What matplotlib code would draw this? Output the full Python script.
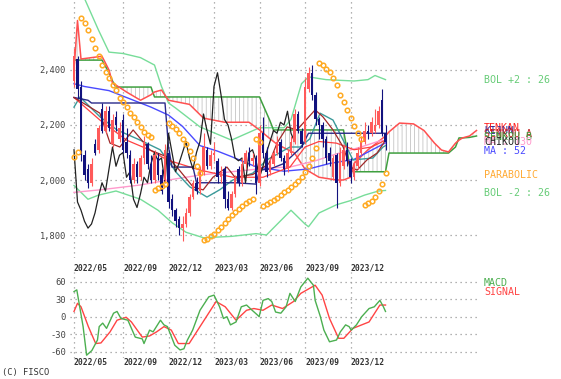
import matplotlib
matplotlib.use("Agg")
import matplotlib.pyplot as plt
import matplotlib.transforms as mtransforms
import numpy as np

W, H = 561, 379

# ---------------- weekly candles ----------------
opens = [2360, 2440, 2340, 2090, 2040, 1990, 2130, 2110, 2260, 2180,
         2250, 2130, 2230, 2150, 2220, 2140, 2090, 2000, 2060, 2010,
         2080, 2130, 2060, 2000, 2080, 2020, 2000, 2100, 1930, 1890,
         1860, 1825, 1840, 1880, 1940, 1990, 1960, 2030, 2110, 2050,
         2090, 2070, 2010, 2040, 1930, 1900, 1950, 2040, 1990, 2060,
         2100, 2070, 2080, 1990, 2170, 2100, 2030, 2060, 2100, 2140,
         2080, 2040, 2100, 2140, 2240, 2180, 2140, 2330, 2390, 2310,
         2220, 2200, 2150, 2100, 2010, 2090, 1990, 2050, 2110, 2070,
         2010, 2050, 2100, 2140, 2180, 2170, 2180, 2200, 2290, 2170]
highs = [2480, 2450, 2360, 2110, 2060, 2080, 2150, 2200, 2280, 2270,
         2270, 2240, 2250, 2210, 2240, 2190, 2110, 2080, 2070, 2090,
         2160, 2140, 2090, 2110, 2100, 2040, 2130, 2110, 1950, 1900,
         1870, 1870, 1900, 1950, 2000, 2010, 2050, 2170, 2120, 2110,
         2140, 2080, 2050, 2050, 1960, 1960, 2020, 2050, 2080, 2110,
         2120, 2100, 2090, 2200, 2230, 2120, 2080, 2110, 2160, 2150,
         2090, 2110, 2160, 2260, 2250, 2190, 2370, 2410, 2420, 2320,
         2230, 2210, 2160, 2120, 2090, 2100, 2120, 2130, 2140, 2080,
         2070, 2120, 2160, 2210, 2200, 2230, 2260, 2270, 2330, 2200]
lows = [2340, 2300, 2070, 2000, 1970, 1980, 2090, 2100, 2170, 2170,
        2180, 2120, 2180, 2140, 2100, 2080, 1990, 1990, 1990, 2000,
        2060, 2040, 1990, 1990, 2000, 1950, 1990, 1900, 1870, 1830,
        1800, 1780, 1830, 1870, 1930, 1950, 1950, 2020, 2040, 2040,
        2070, 1990, 1990, 1900, 1890, 1890, 1940, 1980, 1980, 2040,
        2050, 2050, 1950, 1980, 2080, 2010, 2020, 2050, 2090, 2070,
        2020, 2030, 2090, 2130, 2170, 2120, 2130, 2320, 2290, 2200,
        2150, 2120, 2060, 2050, 2000, 1900, 1980, 2040, 2050, 1990,
        2000, 2040, 2090, 2130, 2150, 2160, 2170, 2190, 2160, 2110]
closes = [2450, 2330, 2090, 2020, 1990, 2060, 2100, 2190, 2180, 2250,
          2190, 2220, 2200, 2190, 2110, 2100, 2000, 2060, 2010, 2080,
          2140, 2060, 2000, 2090, 2020, 1960, 2110, 1920, 1890, 1850,
          1825, 1840, 1880, 1940, 1990, 1960, 2040, 2120, 2050, 2090,
          2100, 2010, 2030, 1930, 1900, 1950, 2010, 1990, 2060, 2100,
          2070, 2080, 1990, 2170, 2100, 2030, 2060, 2100, 2140, 2080,
          2040, 2100, 2140, 2240, 2180, 2130, 2340, 2390, 2310, 2220,
          2200, 2150, 2080, 2070, 2080, 1990, 2100, 2110, 2070, 2010,
          2050, 2100, 2140, 2180, 2170, 2210, 2200, 2250, 2170, 2140]

# parabolic SAR, one dot per week
sar = [2085, 2102, 2590, 2570, 2545, 2512, 2480, 2450, 2420, 2393,
       2370, 2345, 2327, 2300, 2284, 2265, 2245, 2230, 2210, 2193,
       2175, 2165, 2156, 1965, 1970, 1980, 1985, 2207, 2195, 2185,
       2170, 2150, 2130, 2105, 2080, 2051, 2025, 1782, 1787, 1795,
       1805, 1818, 1830, 1845, 1858, 1873, 1885, 1895, 1905, 1915,
       1922, 1930, 2150, 2140, 1905, 1912, 1920, 1928, 1935, 1945,
       1955, 1965, 1975, 1985, 1995, 2010, 2030, 2050, 2080, 2116,
       2425, 2420, 2405, 2393, 2370, 2345, 2310, 2285, 2255, 2225,
       2195, 2170, 2150, 1910, 1915, 1925, 1940, 1960, 1985, 2025]

# ichimoku cloud (senkou spans run 26 weeks ahead)
cloud_bars = [0, 1, 2, 8, 10, 11, 12, 15, 19, 22, 23, 25, 27, 33, 37, 43, 50,
              53, 56, 57, 58, 63, 66, 70, 75, 77, 79, 80, 84, 88, 89, 90, 93,
              97, 100, 103, 105, 107, 109, 110, 111, 113, 115]
senkou_a = [2400, 2580, 2440, 2450, 2400, 2352, 2345, 2320, 2290, 2310, 2320,
            2327, 2290, 2275, 2225, 2210, 2210, 2182, 2150, 2140, 2130, 2098,
            2040, 2010, 2000, 2000, 2010, 2060, 2110, 2150, 2160, 2175, 2207,
            2204, 2180, 2134, 2109, 2102, 2134, 2145, 2153, 2160, 2180]
senkou_b = [2436, 2436, 2436, 2436, 2390, 2360, 2338, 2338, 2338, 2338, 2302,
            2302, 2302, 2302, 2302, 2302, 2302, 2302, 2215, 2182, 2182, 2182,
            2182, 2182, 2182, 2182, 2036, 2030, 2030, 2030, 2030, 2098, 2098,
            2098, 2098, 2098, 2098, 2098, 2120, 2153, 2153, 2155, 2160]

tenkan_bars = [0, 7.4, 10.3, 13.1, 16.9, 21.7, 26.6, 29.4, 34, 36.9, 39.7,
               43.7, 46, 51.1, 55.7, 58, 60.9, 63.7, 68.9, 71.1, 74, 76.9,
               78.9, 80.9, 83.7, 86.6, 89]
tenkan = [2300, 2243, 2134, 2120, 2182, 2109, 2084, 2047, 1975, 1964, 2010,
          2047, 2010, 2020, 2060, 2134, 2193, 2182, 2255, 2230, 2182, 2120,
          2047, 2036, 2073, 2098, 2145]

kijun_bars = [0, 4, 5, 26, 27, 28, 34, 35, 46, 52, 53, 56, 60, 65, 67, 89]
kijun = [2300, 2290, 2280, 2280, 2120, 2047, 2047, 1990, 1990, 1985, 2036,
         2040, 2060, 2120, 2170, 2170]

bol_up_bars = [0, 3, 7, 10, 14, 19, 23, 25, 27, 29, 36, 45, 53, 60, 62, 65,
               67, 72, 80, 84, 86, 89]
bol_up = [2750, 2660, 2545, 2465, 2460, 2445, 2418, 2340, 2280, 2262, 2193,
          2145, 2190, 2190, 2220, 2350, 2375, 2365, 2360, 2365, 2380, 2365]
bol_lo_bars = [0, 4, 7, 12, 19, 24, 28, 32, 37, 45, 52, 55, 62, 66, 67, 70,
               75, 79, 83, 87, 89]
bol_lo = [1980, 1930, 1945, 1960, 1930, 1890, 1845, 1810, 1790, 1795, 1805,
          1800, 1890, 1840, 1830, 1880, 1910, 1925, 1945, 1960, 1962]

ma26_bars = [0, 1.7, 7.4, 12.3, 18.9, 24.6, 29.4, 33.1, 38, 41.7, 45.4, 51.1,
             55.1, 61.7, 64.6, 67.4, 70.3, 74, 76.9, 79.7, 85.4, 88.3, 89]
ma26 = [2265, 2302, 2230, 2182, 2145, 2110, 2025, 1975, 1938, 1965, 2000,
        2025, 2073, 2120, 2120, 2150, 2243, 2218, 2145, 2073, 2080, 2120, 2125]

ma13_bars = [0, 7.4, 15, 21.7, 26.6, 36, 45.4, 54, 61.7, 66, 70, 75, 80, 85, 89]
ma13 = [2300, 2218, 2145, 2109, 2073, 2036, 2010, 2010, 2047, 2120, 2140,
        2134, 2110, 2120, 2145]

ma52_bars = [0, 3, 10, 17, 22, 27, 31, 36, 41, 45, 52, 60, 67, 73, 80, 86, 89]
ma52 = [2350, 2340, 2325, 2290, 2265, 2236, 2195, 2125, 2105, 2085, 2048,
        2032, 2040, 2060, 2075, 2115, 2135]

ma130_bars = [0, 8, 19, 27, 36, 45, 55, 62, 69, 75, 82, 88, 89]
ma130 = [1955, 1965, 1982, 2000, 2018, 2030, 2043, 2048, 2070, 2095, 2120,
         2145, 2140]

# MACD panel
macd_bars = [0, 0.8, 2.6, 3.6, 5.1, 6.7, 7.2, 8.2, 9.3, 11.3, 12.3, 13.4,
             15.4, 17.5, 19.5, 20, 21.6, 22.6, 24.7, 25.7, 26.7, 28.8, 30.3,
             31.4, 32.4, 33.9, 36, 38.5, 40, 41.6, 42.7, 43.7, 44.7, 46.3,
             47.8, 49.3, 50.9, 52.4, 52.9, 54, 55.5, 56.5, 57.6, 59.1, 60.6,
             61.7, 63.2, 64.8, 66.8, 68.4, 68.9, 70.4, 71.4, 73, 75, 76.1,
             77.6, 78.6, 79.2, 80.7, 82.2, 84.3, 85.8, 87.4, 88.4, 89]
macd = [43, 46, -17, -66, -58, -40, -17, -11, -20, 6, 9, -3, -6, -35, -38,
        -46, -23, -26, -6, -14, -17, -49, -57, -55, -40, -23, 11, 34, 37, 17,
        -3, 0, -14, -9, 17, 20, 11, 3, 0, 28, 31, 26, 8, 6, 17, 40, 26, 51,
        66, 54, 28, 0, -23, -43, -40, -26, -14, -17, -23, -14, 0, 14, 17, 28,
        17, 9]
signal_bars = [0, 1, 2, 4.1, 6.2, 7.7, 10.3, 12.3, 14.9, 16.4, 19.5, 21.6,
               23.6, 25.7, 27.8, 29.8, 32.9, 36, 39, 40.6, 43.2, 46.3, 49.3,
               51.4, 54, 56.5, 59.6, 62.7, 64.8, 68.9, 70.9, 73, 75.6, 77.1,
               79.7, 82.2, 84.3, 87.4, 89]
signal = [9, 23, 17, -17, -46, -45, -26, -6, -1, -9, -35, -33, -26, -17, -23,
          -46, -46, -17, 11, 26, 17, -6, 11, 14, 11, 20, 14, 26, 40, 54, 37,
          -3, -37, -37, -20, -14, -9, 20, 20]

date_bars = [0, 14, 27, 40, 53, 66, 79]
date_labels = ["2022/05", "2022/09", "2022/12", "2023/03", "2023/06",
               "2023/09", "2023/12"]
price_ticks = [1800, 2000, 2200, 2400]
macd_ticks = [-60, -30, 0, 30, 60]

MONO = "DejaVu Sans Mono"
DOT = (0, (1, 3))
plt.rcParams["hatch.linewidth"] = 0.6


def px_axes(fig, left, top, right, bottom):
    return fig.add_axes([left / W, 1 - bottom / H, (right - left) / W,
                         (bottom - top) / H])


def bar_of(px):
    return (px - 74) / 3.5


def clean(ax):
    for s in ax.spines.values():
        s.set_visible(False)
    ax.tick_params(length=0, labelsize=6.3, colors="#444444", pad=3)
    ax.set_xticks([])
    ax.set_xlim(bar_of(70), bar_of(478))


fig = plt.figure(figsize=(W / 100, H / 100), dpi=100)

# ---------------- price panel ----------------
ax = px_axes(fig, 70, 0, 478, 258)
clean(ax)
ax.set_ylim(2000 - 78 * 200 / 55, 2000 + 180 * 200 / 55)
ax.set_yticks(price_ticks)
ax.set_yticklabels([f"{v:,}" for v in price_ticks], family=MONO)
for v in price_ticks:
    ax.axhline(v, color="#999999", lw=0.9, ls=DOT, zorder=0)
for b in date_bars:
    ax.axvline(b, color="#999999", lw=0.9, ls=DOT, zorder=0)

# cloud hatch
ax.fill_between(cloud_bars, senkou_a, senkou_b, facecolor="none",
                edgecolor="#c4c4c4", hatch="||||", lw=0, zorder=1)

ax.plot(bol_up_bars, bol_up, color="#77dd99", lw=1.0, zorder=2)
ax.plot(bol_lo_bars, bol_lo, color="#77dd99", lw=1.0, zorder=2)
ax.plot(cloud_bars, senkou_b, color="#3f9f3f", lw=1.1, zorder=2)
ax.plot(cloud_bars, senkou_a, color="#ff5050", lw=1.1, zorder=2)
ax.plot(ma130_bars, ma130, color="#ff99cc", lw=1.0, zorder=2)
ax.plot(ma52_bars, ma52, color="#4a4aff", lw=1.0, zorder=2)
ax.plot(ma26_bars, ma26, color="#3a9a9a", lw=1.0, zorder=2)
ax.plot(ma13_bars, ma13, color="#ff4040", lw=0.9, zorder=2)
ax.plot(kijun_bars, kijun, color="#2a2a8a", lw=1.0, zorder=2)
ax.plot(tenkan_bars, tenkan, color="#a02828", lw=0.9, zorder=2)
# chikou span: close shifted 26 weeks back
ax.plot(np.arange(len(closes) - 26), closes[26:], color="#222222", lw=0.9,
        zorder=2)

# candles
o = np.array(opens, float)
c = np.array(closes, float)
x = np.arange(len(c))
cols = np.where(c >= o, "#ff5a5a", "#12127e")
ax.vlines(x, lows, highs, colors=cols, lw=0.8, zorder=3)
ax.bar(x, np.maximum(np.abs(c - o), 4), bottom=np.minimum(o, c), width=0.8,
       color=cols, lw=0, zorder=3)

ax.plot(np.arange(len(sar)), sar, ls="none", marker="o", ms=3.3, mfc="none",
        mec="#ffaa22", mew=1.1, zorder=4)

# ---------------- MACD panel ----------------
ax2 = px_axes(fig, 70, 272, 478, 358)
clean(ax2)
ax2.set_ylim((316.7 - 358) * 30 / 17.5, (316.7 - 272) * 30 / 17.5)
ax2.set_yticks(macd_ticks)
ax2.set_yticklabels([str(v) for v in macd_ticks], family=MONO)
for v in macd_ticks:
    ax2.axhline(v, color="#999999", lw=0.9, ls=DOT, zorder=0)
for b in date_bars:
    ax2.axvline(b, color="#999999", lw=0.9, ls=DOT, zorder=0)
ax2.plot(macd_bars, macd, color="#4caf50", lw=1.0, zorder=3)
ax2.plot(signal_bars, signal, color="#ff4444", lw=1.0, zorder=2)

# date labels above and below the MACD panel
tr = mtransforms.blended_transform_factory(ax.transData, fig.transFigure)
for b, lab in zip(date_bars, date_labels):
    for ypx in (268, 362):
        fig.text(b, 1 - ypx / H, lab, transform=tr, fontsize=5.8, family=MONO,
                 color="#333333", ha="left", va="center", fontweight="bold")


def label(xpx, ypx, s, col, size=7.2):
    fig.text(xpx / W, 1 - ypx / H, s, fontsize=size, family=MONO, color=col,
             ha="left", va="center")


label(484, 80, "BOL +2 : 26", "#66cc77")
# these labels sit on top of each other in the original too
label(484, 128, "TENKAN", "#ff2020")
label(484, 131, "KIJUN", "#2a2a9a")
label(484, 134, "SENKOU A", "#c02020")
label(484, 137, "SENKOU B", "#3f9f3f")
label(484, 142, "MA : 130", "#ff99cc")
label(484, 142, "CHIKOU", "#222222")
label(484, 151, "MA : 52", "#4a4aff")
label(484, 175, "PARABOLIC", "#ffaa33")
label(484, 193, "BOL -2 : 26", "#66cc77")
label(484, 283, "MACD", "#4caf50")
label(484, 292, "SIGNAL", "#ff4444")
label(2, 373, "(C) FISCO", "#333333", size=6.3)

fig.savefig("out.png", dpi=100)
